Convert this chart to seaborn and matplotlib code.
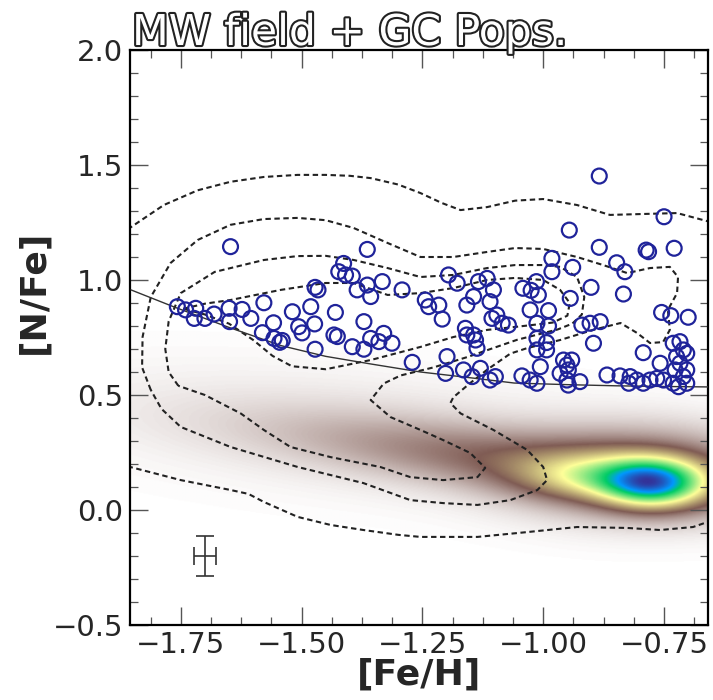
import numpy as np
import matplotlib
matplotlib.use("Agg")
import matplotlib.pyplot as plt
import matplotlib.patheffects as pe
from matplotlib.ticker import MultipleLocator
import seaborn as sns

# ---------------------------------------------------------------
# Globular-cluster stars: [Fe/H] and [N/Fe]
# ---------------------------------------------------------------
feh_gc = [
    -1.647, -1.757, -1.740, -1.719, -1.722, -1.700, -1.681, -1.650, -1.649, -1.623,
    -1.605, -1.578, -1.581, -1.558, -1.557, -1.545, -1.540, -1.519, -1.506, -1.499,
    -1.481, -1.473, -1.472, -1.472, -1.466,
    -1.364, -1.413, -1.423, -1.409, -1.395, -1.385, -1.364, -1.357, -1.333, -1.292,
    -1.430, -1.371, -1.433, -1.426, -1.395, -1.371, -1.357, -1.340, -1.330, -1.313,
    -1.271, -1.244, -1.237, -1.216, -1.209, -1.196, -1.178, -1.161, -1.158, -1.144,
    -1.140, -1.137, -1.158, -1.144, -1.134, -1.116, -1.110, -1.103, -1.106, -1.096,
    -1.085, -1.072, -1.199, -1.202, -1.165, -1.147, -1.130, -1.110, -1.099,
    -0.884, -0.750, -0.946, -0.884, -0.787, -0.782, -0.729, -0.982, -0.982, -0.939,
    -0.848, -0.831, -1.042, -1.014, -1.010, -0.944, -0.901, -0.834, -1.027, -0.989,
    -1.013, -0.989, -0.920, -0.903, -0.882, -0.755, -0.736, -0.700, -1.013, -0.993,
    -1.013, -0.993, -0.896, -0.793, -0.958, -0.951, -0.941, -0.948, -1.006, -1.044,
    -1.027, -1.013, -0.965, -0.951, -0.948, -0.924, -0.868, -0.841, -0.820, -0.806,
    -0.793, -0.779, -0.765, -0.758, -0.751, -0.823, -0.731, -0.717, -0.710, -0.703,
    -0.724, -0.717, -0.703, -0.727, -0.710, -0.731, -0.720, -0.703, -1.025,
]
nfe_gc = [
    1.145, 0.884, 0.870, 0.877, 0.833, 0.833, 0.852, 0.877, 0.819, 0.872,
    0.833, 0.901, 0.771, 0.814, 0.746, 0.729, 0.737, 0.862, 0.797, 0.770,
    0.884, 0.809, 0.699, 0.968, 0.957,
    1.133, 1.072, 1.036, 1.022, 1.017, 0.957, 0.978, 0.928, 0.993, 0.957,
    0.859, 0.819, 0.761, 0.754, 0.710, 0.699, 0.746, 0.732, 0.768, 0.725,
    0.642, 0.913, 0.884, 0.891, 0.830, 1.022, 0.986, 0.790, 0.761, 0.761,
    0.739, 0.703, 0.891, 0.928, 0.993, 1.007, 0.906, 0.957, 0.833, 0.848,
    0.812, 0.804, 0.667, 0.594, 0.609, 0.580, 0.616, 0.565, 0.580,
    1.452, 1.275, 1.217, 1.142, 1.130, 1.123, 1.138, 1.094, 1.036, 1.055,
    1.075, 1.036, 0.964, 0.993, 0.935, 0.920, 0.968, 0.939, 0.870, 0.867,
    0.812, 0.800, 0.804, 0.812, 0.819, 0.859, 0.845, 0.838, 0.746, 0.728,
    0.696, 0.696, 0.725, 0.684, 0.652, 0.630, 0.652, 0.609, 0.623, 0.583,
    0.565, 0.551, 0.594, 0.565, 0.543, 0.558, 0.587, 0.583, 0.580, 0.565,
    0.551, 0.565, 0.572, 0.638, 0.565, 0.551, 0.725, 0.732, 0.696, 0.681,
    0.667, 0.638, 0.609, 0.609, 0.580, 0.551, 0.536, 0.551, 0.955,
]

# N-rich selection boundary
feh_cut = [-1.853, -1.764, -1.653, -1.543, -1.450, -1.357, -1.254, -1.151,
           -1.060, -0.950, -0.850, -0.750, -0.655]
nfe_cut = [0.957, 0.883, 0.796, 0.715, 0.668, 0.635, 0.600, 0.575,
           0.552, 0.545, 0.540, 0.537, 0.535]

# Density contours of the cluster sample (iso-density paths)
lvl1_top_feh = [-1.86, -1.785, -1.715, -1.647, -1.578, -1.508, -1.45, -1.40, -1.357,
                -1.30, -1.254, -1.21, -1.171, -1.116, -1.058, -1.0, -0.93, -0.862,
                -0.793, -0.723, -0.65]
lvl1_top_nfe = [1.22, 1.326, 1.39, 1.427, 1.448, 1.457, 1.457, 1.453, 1.443,
                1.415, 1.378, 1.335, 1.304, 1.317, 1.345, 1.352, 1.326, 1.283,
                1.287, 1.291, 1.25]
lvl1_bot_feh = [-1.86, -1.75, -1.647, -1.61, -1.578, -1.508, -1.44, -1.372, -1.30,
                -1.254, -1.136, -1.033, -0.93, -0.826, -0.758, -0.69, -0.65]
lvl1_bot_nfe = [0.19, 0.13, 0.087, 0.07, 0.035, -0.03, -0.065, -0.087, -0.108,
                -0.117, -0.117, -0.096, -0.074, -0.078, -0.087, -0.074, -0.045]

lvl2_feh = [-1.812, -1.830, -1.829, -1.812, -1.771, -1.715, -1.647, -1.578, -1.508,
            -1.45, -1.392, -1.322, -1.254, -1.186, -1.116, -1.058, -1.0, -0.93,
            -0.876, -0.826, -0.779, -0.738, -0.721, -0.723, -0.742, -0.738, -0.752,
            -0.779, -0.806, -0.84, -0.897, -0.965, -1.033, -1.068, -1.116, -1.151,
            -1.186, -1.192, -1.171, -1.103, -1.033, -1.0, -0.992, -1.012, -1.068,
            -1.136, -1.207, -1.275, -1.372, -1.508, -1.647, -1.75, -1.79, -1.812]
lvl2_nfe = [0.522, 0.62, 0.752, 0.926, 1.074, 1.174, 1.24, 1.265, 1.27,
            1.26, 1.226, 1.161, 1.10, 1.10, 1.122, 1.139, 1.135, 1.10,
            1.065, 1.03, 1.052, 1.057, 1.013, 0.943, 0.87, 0.783, 0.73,
            0.726, 0.77, 0.813, 0.783, 0.739, 0.704, 0.68, 0.61, 0.552,
            0.49, 0.465, 0.42, 0.348, 0.261, 0.187, 0.13, 0.087, 0.043,
            0.022, 0.03, 0.043, 0.117, 0.187, 0.274, 0.361, 0.44, 0.522]

lvl3_feh = [-1.755, -1.775, -1.782, -1.775, -1.75, -1.68, -1.578, -1.508, -1.45,
            -1.392, -1.322, -1.254, -1.186, -1.116, -1.058, -1.0, -0.965, -0.93,
            -0.915, -0.92, -0.94, -0.97, -1.054, -1.157, -1.227, -1.295, -1.33,
            -1.357, -1.316, -1.254, -1.207, -1.151, -1.12, -1.136, -1.207, -1.275,
            -1.337, -1.44, -1.523, -1.578, -1.626, -1.70, -1.755]
lvl3_nfe = [0.54, 0.60, 0.70, 0.82, 0.943, 1.035, 1.087, 1.104, 1.105,
            1.087, 1.052, 1.013, 1.022, 1.052, 1.065, 1.065, 1.057, 1.013,
            0.926, 0.85, 0.81, 0.785, 0.74, 0.665, 0.62, 0.585, 0.55,
            0.478, 0.404, 0.348, 0.304, 0.248, 0.183, 0.143, 0.13, 0.143,
            0.187, 0.23, 0.274, 0.348, 0.42, 0.50, 0.54]

lvl4_feh = [-1.745, -1.70, -1.647, -1.543, -1.45, -1.392, -1.322, -1.254, -1.186,
            -1.116, -1.058, -1.0, -0.965, -0.945, -0.95, -0.98, -1.02, -1.058,
            -1.116, -1.186, -1.254, -1.357, -1.45, -1.52, -1.56, -1.60, -1.65,
            -1.70, -1.745]
lvl4_nfe = [0.875, 0.897, 0.913, 0.957, 0.987, 0.987, 0.935, 0.943, 0.965,
            1.0, 1.009, 1.0, 0.957, 0.90, 0.845, 0.815, 0.805, 0.796,
            0.783, 0.752, 0.709, 0.652, 0.612, 0.625, 0.67, 0.739, 0.81,
            0.85, 0.875]

# Milky Way field density: Gaussian components (centre, widths, tilt, weight)
field_cx = [-0.772, -0.79, -0.91, -1.02, -1.35]
field_cy = [0.115, 0.16, 0.14, 0.20, 0.33]
field_sx = [0.072, 0.17, 0.10, 0.33, 0.45]
field_sy = [0.072, 0.13, 0.065, 0.095, 0.18]
field_tilt = [0.0, 0.0, 0.0, -0.26, -0.20]
field_w = [0.64, 0.28, 0.18, 0.22, 0.055]

# Typical uncertainty
err_feh, err_nfe = -1.70, -0.20
err_dx, err_dy = 0.022, 0.088

# ---------------------------------------------------------------
sns.set_style("ticks")
plt.rcParams["font.family"] = ["DejaVu Sans"]

fig = plt.figure(figsize=(7.13, 7.0), dpi=100)
ax = fig.add_axes([130 / 713, 75 / 700, 578 / 713, 575 / 700])
xlim = (-1.855, -0.659)
ylim = (-0.5, 2.0)

# field-star density map
gx = np.linspace(xlim[0], xlim[1], 500)
gy = np.linspace(ylim[0], ylim[1], 600)
X, Y = np.meshgrid(gx, gy)
Z = np.zeros_like(X)
for cx, cy, sx, sy, k, w in zip(field_cx, field_cy, field_sx, field_sy,
                                field_tilt, field_w):
    dy = Y - cy - k * (X - cx)
    Z += w * np.exp(-0.5 * (((X - cx) / sx) ** 2 + (dy / sy) ** 2))
Z /= Z.max()
ax.imshow(Z, origin="lower", extent=(xlim[0], xlim[1], ylim[0], ylim[1]),
          cmap="terrain_r", vmin=0, vmax=1, aspect="auto",
          interpolation="bilinear", zorder=0)

# iso-density contours
dash = dict(color="#222222", lw=1.5, ls=(0, (2.6, 1.7)), zorder=2)
ax.plot(lvl1_top_feh, lvl1_top_nfe, **dash)
ax.plot(lvl1_bot_feh, lvl1_bot_nfe, **dash)
ax.plot(lvl2_feh, lvl2_nfe, **dash)
ax.plot(lvl3_feh, lvl3_nfe, **dash)
ax.plot(lvl4_feh, lvl4_nfe, **dash)

# selection boundary
sns.lineplot(x=feh_cut, y=nfe_cut, ax=ax, color="#333333", lw=1.0,
             estimator=None, sort=False, zorder=3)

# cluster stars
sns.scatterplot(x=feh_gc, y=nfe_gc, ax=ax, marker="o", s=115, zorder=4)
pts = ax.collections[-1]
pts.set_facecolor("none")
pts.set_edgecolor("#1f239a")
pts.set_linewidth(1.6)

# error bar
ax.errorbar([err_feh], [err_nfe], xerr=[err_dx], yerr=[err_dy], fmt="none",
            ecolor="#333333", elinewidth=1.2, capsize=6.5, capthick=1.2, zorder=5)

ax.set_xlim(*xlim)
ax.set_ylim(*ylim)
ax.xaxis.set_major_locator(MultipleLocator(0.25))
ax.xaxis.set_minor_locator(MultipleLocator(0.0625))
ax.yaxis.set_major_locator(MultipleLocator(0.5))
ax.yaxis.set_minor_locator(MultipleLocator(0.1))
ax.tick_params(which="both", direction="in", top=True, right=True,
               color="#555555", labelsize=21)
ax.tick_params(which="major", length=13, width=1.0)
ax.tick_params(which="minor", length=6, width=0.9)
ax.tick_params(axis="y", pad=5)
ax.tick_params(axis="x", pad=4)
for sp in ax.spines.values():
    sp.set_linewidth(1.6)
    sp.set_color("black")
ax.set_xlabel("")
ax.set_ylabel("")

fig.text(419 / 713, 1 - 675 / 700, "[Fe/H]", fontsize=26, fontweight="bold",
         ha="center", va="center")
fig.text(33 / 713, 1 - 292 / 700, "[N/Fe]", fontsize=26, fontweight="bold",
         ha="center", va="center", rotation=90)
fig.text(132 / 713, 1 - 45 / 700, "MW field + GC Pops.", fontsize=30.6,
         color="white", ha="left", va="baseline",
         path_effects=[pe.withStroke(linewidth=3, foreground="#222222")])

fig.savefig("out.png", dpi=100)
